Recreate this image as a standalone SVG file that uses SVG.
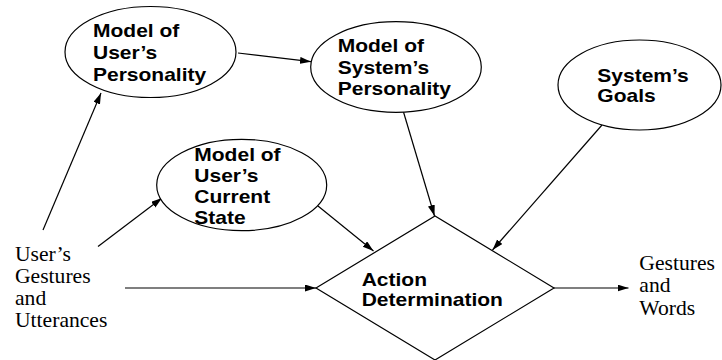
<svg xmlns="http://www.w3.org/2000/svg" width="722" height="360" viewBox="0 0 722 360">
<style>
.n{fill:#fff;stroke:#000;stroke-width:1.2}
.b{font-family:"Liberation Sans",Arial,sans-serif;font-weight:bold;font-size:18.6px;fill:#000}
.s{font-family:"Liberation Serif","Times New Roman",serif;font-size:20.2px;fill:#000}
.c{stroke:#000;stroke-width:1.2;fill:none;marker-end:url(#ah)}
</style>
<defs>
<marker id="ah" markerUnits="userSpaceOnUse" markerWidth="12" markerHeight="8" refX="11" refY="3.5" orient="auto">
<path d="M0,0 L11,3.5 L0,7 z" fill="#000"/>
</marker>
</defs>
<g id="connectors">
<line class="c" x1="43" y1="230" x2="101" y2="93"/>
<line class="c" x1="98" y1="246.5" x2="162" y2="198"/>
<line class="c" x1="125" y1="288" x2="316" y2="288"/>
<line class="c" x1="318" y1="206" x2="373.5" y2="251"/>
<line class="c" x1="403.5" y1="112" x2="434.5" y2="216"/>
<line class="c" x1="602" y1="125" x2="492.5" y2="250"/>
<line class="c" x1="554" y1="288" x2="628.5" y2="288"/>
<line class="c" x1="238" y1="53" x2="311" y2="61.7"/>
</g>
<g id="userPersonality">
<ellipse class="n" cx="150.5" cy="52" rx="85.5" ry="45.5"/>
<g class="b" transform="translate(93,0) scale(1.13,1)">
<text x="0" y="37.3">Model of</text>
<text x="0" y="59.3">User’s</text>
<text x="0" y="80.7">Personality</text>
</g>
</g>
<g id="systemPersonality">
<ellipse class="n" cx="396" cy="67" rx="85.3" ry="45.3"/>
<g class="b" transform="translate(337.7,0) scale(1.13,1)">
<text x="0" y="52.3">Model of</text>
<text x="0" y="74.3">System’s</text>
<text x="0" y="95">Personality</text>
</g>
</g>
<g id="systemGoals">
<ellipse class="n" cx="639.5" cy="85" rx="81.5" ry="45"/>
<g class="b" transform="translate(597.3,0) scale(1.13,1)">
<text x="0" y="81.7">System’s</text>
<text x="0" y="102.3">Goals</text>
</g>
</g>
<g id="userCurrentState">
<ellipse class="n" cx="241.7" cy="185" rx="85" ry="45.7"/>
<g class="b" transform="translate(194.3,0) scale(1.13,1)">
<text x="0" y="160.7">Model of</text>
<text x="0" y="181.7">User’s</text>
<text x="0" y="203.3">Current</text>
<text x="0" y="224">State</text>
</g>
</g>
<g id="actionDetermination">
<polygon class="n" points="316,288 435,216 554,288 435,360"/>
<g class="b" transform="translate(361.7,0) scale(1.13,1)">
<text x="0" y="286">Action</text>
<text x="0" y="306">Determination</text>
</g>
</g>
<g id="userInput">
<g class="s" transform="translate(15,0) scale(1.07,1)">
<text x="0" y="261">User’s</text>
<text x="0" y="283">Gestures</text>
<text x="0" y="305">and</text>
<text x="0" y="327">Utterances</text>
</g>
</g>
<g id="output">
<g class="s" transform="translate(639.3,0) scale(1.07,1)">
<text x="0" y="270">Gestures</text>
<text x="0" y="292">and</text>
<text x="0" y="314.7">Words</text>
</g>
</g>
</svg>
